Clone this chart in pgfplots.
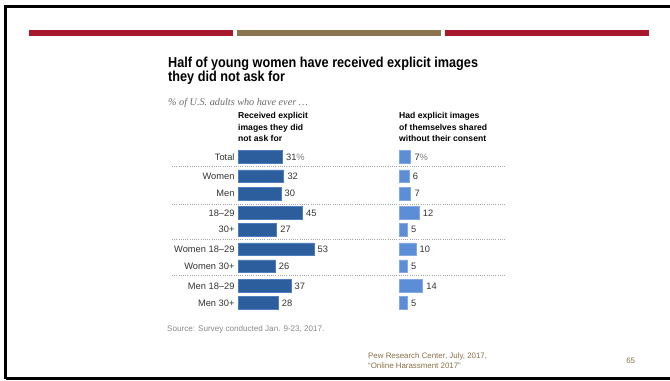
\documentclass[border=0pt]{standalone}
\usepackage{pgfplots}
\pgfplotsset{compat=1.18}
\usepackage{fontspec}
\setmainfont{Liberation Sans}
\newfontfamily\serifit{Liberation Serif}
\newfontfamily\titlefont{Liberation Sans}[FakeStretch=0.88]
\definecolor{slidered}{HTML}{A8192E}
\definecolor{slidetan}{HTML}{8B7550}
\definecolor{darkbar}{HTML}{2C5D9C}
\definecolor{darkbarline}{HTML}{4F7EBB}
\definecolor{lightbar}{HTML}{5B8ED6}
\definecolor{lightbarline}{HTML}{84A9E2}
\definecolor{labeltext}{HTML}{333333}
\definecolor{subgray}{HTML}{6A6A6A}
\definecolor{srcgray}{HTML}{8A8A8A}
\definecolor{footbrown}{HTML}{8A7048}
\newcommand{\fs}[2]{\fontsize{#1bp}{#2bp}\selectfont}
\begin{document}
\begin{tikzpicture}[x=1bp,y=1bp]
\clip (0,0) rectangle (670,-380);
\fill[white] (0,0) rectangle (670,-380);
% frame
\draw[black,line width=2.7bp] (5.5,-378.6) -- (5.5,-6.7) -- (680,-6.7);
\draw[black,line width=2.7bp] (5.5,-378.6) -- (680,-378.6);
% top bars
\fill[slidered] (29,-30) rectangle (233,-36);
\fill[slidetan] (237,-30) rectangle (441,-36);
\fill[slidered] (445,-30) rectangle (649,-36);
% title
\node[anchor=base west,inner sep=0pt,font=\fs{14.4}{16}\titlefont\bfseries] at (168,-67.3) {Half of young women have received explicit images};
\node[anchor=base west,inner sep=0pt,font=\fs{14.4}{16}\titlefont\bfseries] at (168,-81.7) {they did not ask for};
\node[anchor=base west,inner sep=0pt,font=\fs{10.2}{12}\serifit\itshape,text=subgray] at (168,-105.3) {\% of U.S. adults who have ever \dots};
% column headers
\foreach \t/\yy in {Received explicit/118.7, images they did/130, not ask for/141.2}
  \node[anchor=base west,inner sep=0pt,font=\fs{8.6}{10}\bfseries] at (238,-\yy) {\t};
\foreach \t/\yy in {Had explicit images/118.7, of themselves shared/130, without their consent/141.2}
  \node[anchor=base west,inner sep=0pt,font=\fs{8.6}{10}\bfseries] at (399,-\yy) {\t};
% separators
\foreach \yy in {166.7,204,239.3,275.7}
  \draw[gray!70,line width=0.8bp,dash pattern=on 1bp off 1.2bp] (172,-\yy) -- (505,-\yy);
% left axis
\begin{axis}[
  at={(238bp,-147bp)}, anchor=north west,
  x=1.43bp, y=1bp, y dir=reverse,
  xmin=0, xmax=60, ymin=-10, ymax=155,
  enlargelimits=false, clip=false,
  axis lines*=left, axis line style={draw=none},
  xtick=\empty, major tick length=0pt,
  ytick={0,19.3,36.7,56,72.7,92.3,109.3,129,146},
  yticklabels={Total,Women,Men,18--29,30+,Women 18--29,Women 30+,Men 18--29,Men 30+},
  yticklabel style={font=\fs{9.3}{11},text=labeltext},
  xbar, bar width=12.7bp,
  nodes near coords, point meta=explicit symbolic,
  nodes near coords style={anchor=west,inner sep=0pt,xshift=3.5bp,font=\fs{9.3}{11},text=labeltext},
]
\addplot[fill=darkbar,draw=darkbarline,line width=0.6bp] coordinates {
 (31,0) [31\textcolor{gray}{\%}]
 (32,19.3) [32]
 (30,36.7) [30]
 (45,56) [45]
 (27,72.7) [27]
 (53,92.3) [53]
 (26,109.3) [26]
 (37,129) [37]
 (28,146) [28]
};
\end{axis}
% right axis
\begin{axis}[
  at={(399bp,-147bp)}, anchor=north west,
  x=1.68bp, y=1bp, y dir=reverse,
  xmin=0, xmax=40, ymin=-10, ymax=155,
  enlargelimits=false, clip=false,
  hide axis,
  xbar, bar width=12.7bp,
  nodes near coords, point meta=explicit symbolic,
  nodes near coords style={anchor=west,inner sep=0pt,xshift=3.5bp,font=\fs{9.3}{11},text=labeltext},
]
\addplot[fill=lightbar,draw=lightbarline,line width=0.6bp] coordinates {
 (7,0) [7\textcolor{gray}{\%}]
 (6,19.3) [6]
 (7,36.7) [7]
 (12,56) [12]
 (5,72.7) [5]
 (10,92.3) [10]
 (5,109.3) [5]
 (14,129) [14]
 (5,146) [5]
};
\end{axis}
% source and footer
\node[anchor=base west,inner sep=0pt,font=\fs{8.1}{9},text=srcgray] at (167,-331) {Source: Survey conducted Jan. 9-23, 2017.};
\node[anchor=base west,inner sep=0pt,font=\fs{7.9}{9},text=footbrown] at (368,-358.3) {Pew Research Center, July, 2017,};
\node[anchor=base west,inner sep=0pt,font=\fs{7.9}{9},text=footbrown] at (368,-368.3) {``Online Harassment 2017''};
\node[anchor=base,inner sep=0pt,font=\fs{7.9}{9},text=footbrown] at (630.7,-363) {65};
\end{tikzpicture}
\end{document}
